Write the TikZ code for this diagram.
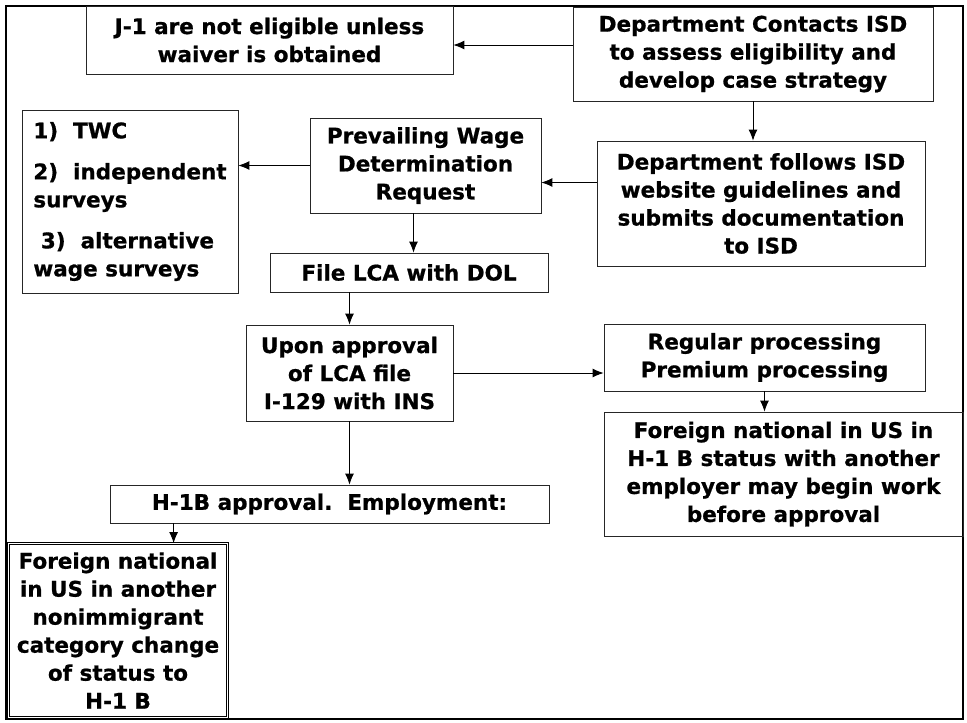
\documentclass[tikz,border=0pt]{standalone}
\usepackage{fontspec}
\setmainfont{DejaVu Sans}[BoldFeatures={FakeBold=0.8}]
\usepackage{tikz}
\usetikzlibrary{arrows,arrows.meta,calc,positioning}
\tikzset{%
	stepbox/.style = {draw=black!85, line width=0.8pt, rectangle, inner sep=0pt, align=center, font=\bfseries\fontsize{21.5}{28}\selectfont},
	arrow/.style   = {line width=0.9pt, -{Latex[length=11pt,width=9pt]}},
}

\begin{document}
\begin{tikzpicture}[x=1pt,y=-1pt]
	\useasboundingbox (0,0) rectangle (967,723);
	\draw[line width=2pt] (6,6) rectangle (963,719);  % outer frame
	\node[stepbox, minimum width=367pt, minimum height=68pt] (jone) at (269.5,40) {J-1 are not eligible unless\\waiver is obtained};
	\node[stepbox, minimum width=360pt, minimum height=94pt] (contacts) at (753,54) {Department Contacts ISD\\to assess eligibility and\\develop case strategy};
	\node[stepbox, minimum width=328pt, minimum height=125pt] (follows) at (761,203.5) {Department follows ISD\\website guidelines and\\submits documentation\\to ISD};
	\node[stepbox, minimum width=231pt, minimum height=95pt] (wage) at (425.5,165.5) {Prevailing Wage\\Determination\\Request};
	\node[stepbox, minimum width=216pt, minimum height=183pt, align=left] (sources) at (130,201.5) {1)\ \ TWC\\[13pt]2)\ \ independent\\surveys\\[13pt]\ 3)\ \ alternative\\wage surveys};
	\node[stepbox, minimum width=278pt, minimum height=39pt] (lca) at (409,272.5) {File LCA with DOL};
	\node[stepbox, minimum width=207pt, minimum height=96pt] (upon) at (349.5,373) {Upon approval\\of LCA file\\I-129 with INS};
	\node[stepbox, minimum width=321pt, minimum height=67pt] (regular) at (764.5,357.5) {Regular processing\\Premium processing};
	\node[stepbox, minimum width=359pt, minimum height=124pt] (fnright) at (783.5,474) {Foreign national in US in\\H-1 B status with another\\employer may begin work\\before approval};
	\node[stepbox, minimum width=439pt, minimum height=38pt] (approval) at (329.5,504) {H-1B approval.\ \ Employment:};
	\node[stepbox, draw=black, line width=0.8pt, double, double distance=1.6pt, minimum width=219pt, minimum height=174pt] (fnleft) at (118,630.5) {Foreign national\\in US in another\\nonimmigrant\\category change\\of status to\\H-1 B};
	% connectors
	\draw[arrow] ([yshift=9pt]contacts.west) -- ([yshift=9pt]contacts.west -| jone.east);
	\draw[arrow] (contacts.south) -- (contacts.south |- follows.north);
	\draw[arrow] ([yshift=21pt]follows.west) -- ([yshift=21pt]follows.west -| wage.east);
	\draw[arrow] (wage.west) -- (wage.west -| sources.east);
	\draw[arrow] ([xshift=-12pt]wage.south) -- ([xshift=-12pt]wage.south |- lca.north);
	\draw[arrow] (upon.north |- lca.south) -- (upon.north);
	\draw[arrow] (upon.east) -- (upon.east -| regular.west);
	\draw[arrow] (regular.south) -- (regular.south |- fnright.north);
	\draw[arrow] (upon.south) -- (upon.south |- approval.north);
	\draw[arrow] ([xshift=64pt]approval.south west) -- ([xshift=64pt]approval.south west |- fnleft.north);
\end{tikzpicture}
\end{document}
